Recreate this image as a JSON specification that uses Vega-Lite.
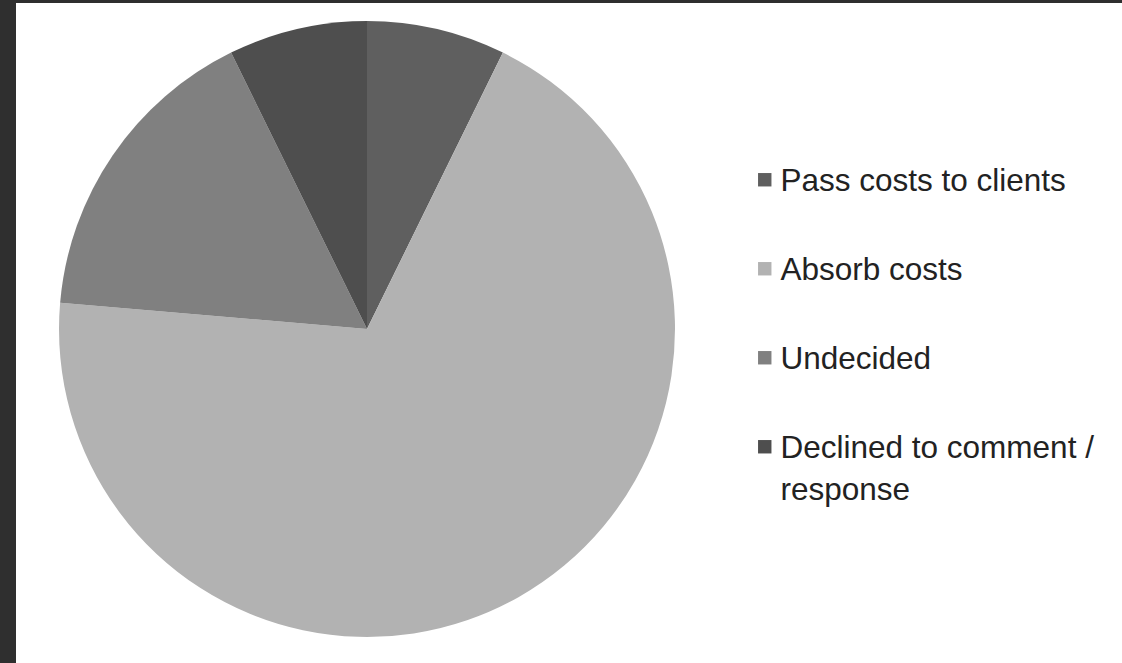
{
  "$schema": "https://vega.github.io/schema/vega-lite/v6.json",
  "width": 1106,
  "height": 660,
  "autosize": {"type": "none"},
  "padding": {"left": 16, "top": 3, "right": 0, "bottom": 0},
  "background": "#2f2f2f",
  "config": {
    "view": {"stroke": null},
    "font": "Liberation Sans",
    "style": {"guide-label": {"lineHeight": 42, "dy": 11, "font": "Liberation Sans"}}
  },
  "layer": [
    {
      "data": {"values": [{}]},
      "mark": {"type": "rect", "color": "#ffffff"},
      "encoding": {}
    },
    {
      "data": {
        "values": [
          {"category": "Pass costs to clients", "count": 4, "order": 1},
          {"category": "Absorb costs", "count": 38, "order": 2},
          {"category": "Undecided", "count": 9, "order": 3},
          {"category": "Declined to  comment / response", "count": 4, "order": 4}
        ]
      },
      "mark": {"type": "arc", "radius": 308, "x": 351, "y": 326, "stroke": null},
      "encoding": {
        "theta": {"field": "count", "type": "quantitative", "stack": true},
        "order": {"field": "order", "type": "quantitative"},
        "color": {
          "field": "category",
          "type": "nominal",
          "scale": {
            "domain": ["Pass costs to clients", "Absorb costs", "Undecided", "Declined to  comment / response"],
            "range": ["#5f5f5f", "#b2b2b2", "#808080", "#4e4e4e"]
          },
          "legend": {
            "title": null,
            "orient": "none",
            "legendX": 733,
            "legendY": 161,
            "padding": 0,
            "symbolType": "square",
            "symbolSize": 180,
            "symbolStrokeWidth": 0,
            "labelFont": "Liberation Sans",
            "labelFontSize": 31.5,
            "labelColor": "#222222",
            "labelOffset": 0,
            "labelLimit": 400,
            "rowPadding": 55,
            "labelBaseline": "alphabetic",
            "labelExpr": "datum.label == 'Declined to  comment / response' ? ['Declined to  comment /', 'response'] : datum.label"
          }
        }
      }
    }
  ]
}
